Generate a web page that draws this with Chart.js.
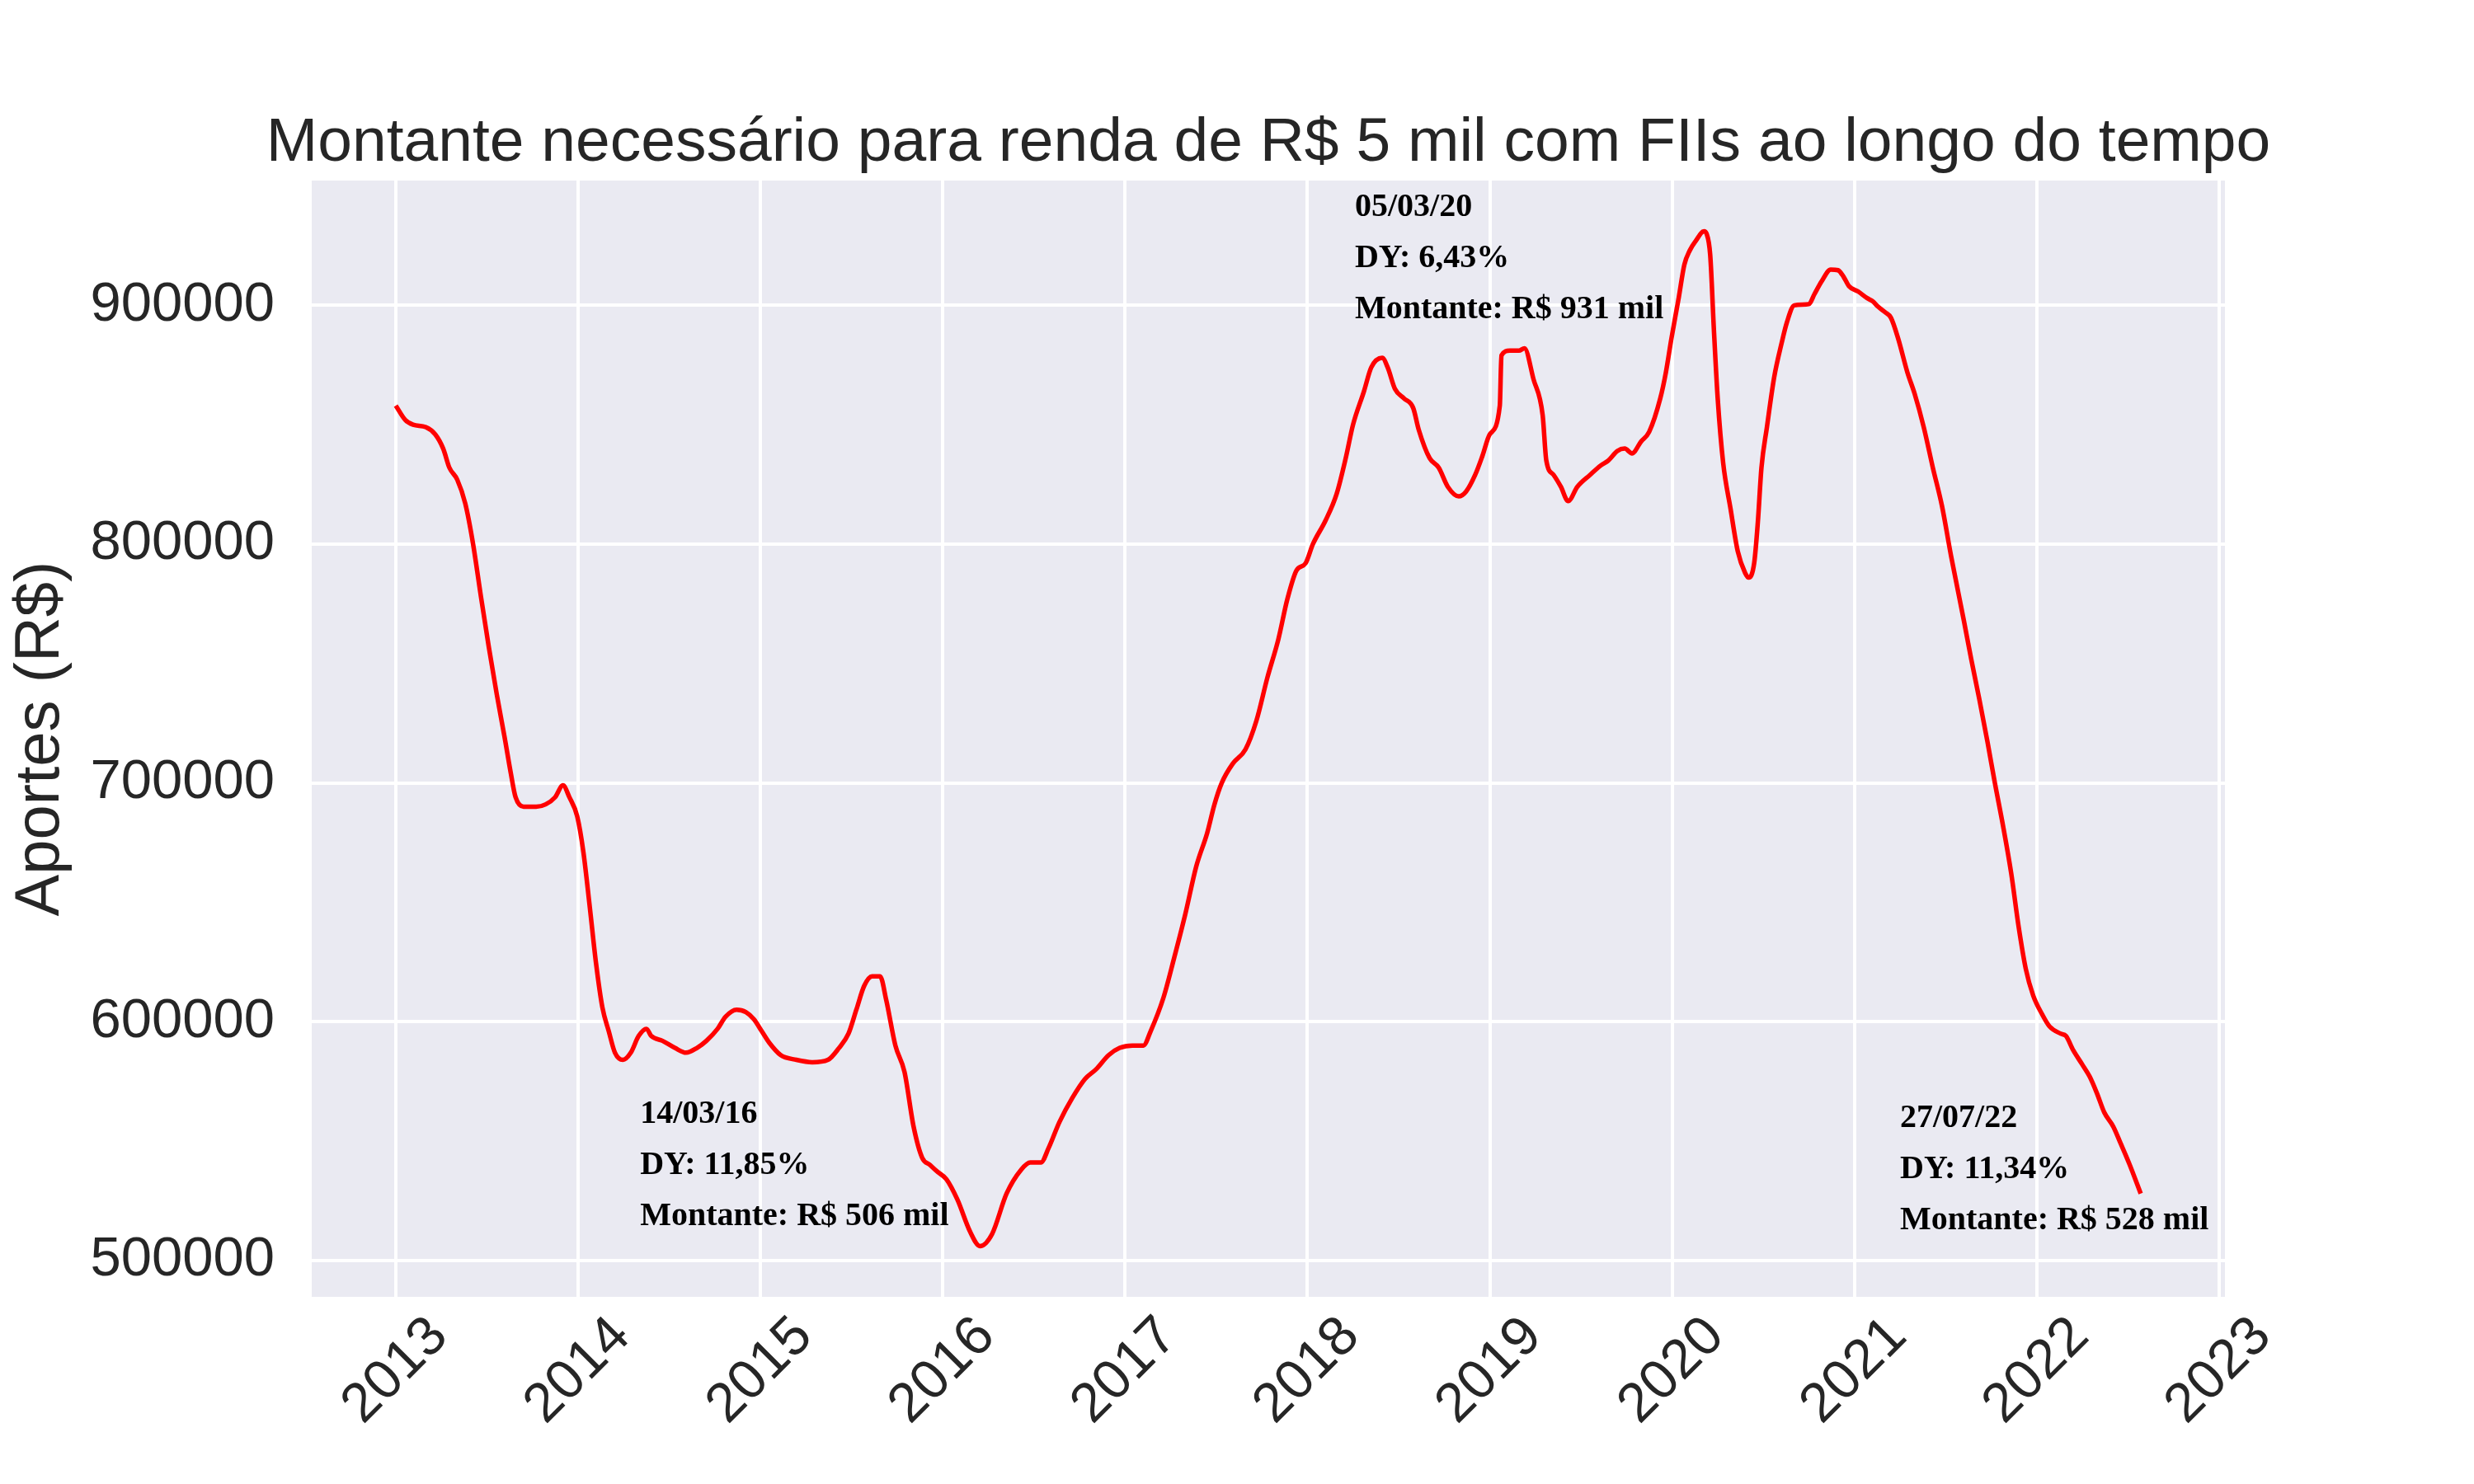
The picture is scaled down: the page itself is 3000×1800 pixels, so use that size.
<!DOCTYPE html>
<html>
<head>
<meta charset="utf-8">
<script src="https://cdn.jsdelivr.net/npm/chart.js@4.4.0/dist/chart.umd.min.js"></script>
<style>
  html, body { margin: 0; padding: 0; background: #ffffff; }
  #wrap { width: 3000px; height: 1800px; }
</style>
</head>
<body>
<div id="wrap"><canvas id="grafico" width="3000" height="1800"></canvas></div>
<script>
// Montante necessário para renda de R$ 5 mil com FIIs

const titulo = 'Montante necessário para renda de R$ 5 mil com FIIs ao longo do tempo';
const rotuloY = 'Aportes (R$)';

// datas em anos decimais
const anos = [
    2013.000, 2013.052, 2013.095, 2013.164, 2013.216, 2013.260, 2013.294, 2013.337, 2013.381, 2013.424,
    2013.467, 2013.510, 2013.554, 2013.597, 2013.631, 2013.657, 2013.701, 2013.770, 2013.822, 2013.874,
    2013.917, 2013.952, 2013.995, 2014.029, 2014.064, 2014.099, 2014.133, 2014.168, 2014.202, 2014.246,
    2014.289, 2014.332, 2014.375, 2014.401, 2014.462, 2014.531, 2014.592, 2014.652, 2014.704, 2014.765,
    2014.808, 2014.869, 2014.920, 2014.964, 2015.007, 2015.050, 2015.111, 2015.197, 2015.284, 2015.370,
    2015.431, 2015.483, 2015.526, 2015.569, 2015.612, 2015.656, 2015.690, 2015.740, 2015.790, 2015.840,
    2015.887, 2015.930, 2015.973, 2016.020, 2016.080, 2016.150, 2016.204, 2016.270, 2016.350, 2016.430,
    2016.480, 2016.538, 2016.580, 2016.640, 2016.710, 2016.780, 2016.840, 2016.910, 2016.970, 2017.040,
    2017.100, 2017.140, 2017.210, 2017.270, 2017.330, 2017.390, 2017.450, 2017.490, 2017.530, 2017.590,
    2017.660, 2017.720, 2017.780, 2017.840, 2017.890, 2017.940, 2017.990, 2018.030, 2018.100, 2018.160,
    2018.210, 2018.250, 2018.310, 2018.350, 2018.410, 2018.440, 2018.480, 2018.530, 2018.580, 2018.610,
    2018.670, 2018.720, 2018.770, 2018.830, 2018.870, 2018.920, 2018.960, 2019.000, 2019.055, 2019.064,
    2019.110, 2019.160, 2019.190, 2019.240, 2019.290, 2019.310, 2019.350, 2019.390, 2019.430, 2019.480,
    2019.550, 2019.610, 2019.650, 2019.700, 2019.740, 2019.780, 2019.830, 2019.874, 2019.935, 2019.966,
    2019.996, 2020.037, 2020.067, 2020.097, 2020.130, 2020.175, 2020.189, 2020.209, 2020.229, 2020.250,
    2020.280, 2020.320, 2020.360, 2020.400, 2020.420, 2020.450, 2020.470, 2020.490, 2020.520, 2020.560,
    2020.600, 2020.630, 2020.670, 2020.750, 2020.780, 2020.820, 2020.870, 2020.910, 2020.940, 2020.970,
    2021.020, 2021.070, 2021.100, 2021.130, 2021.170, 2021.200, 2021.240, 2021.290, 2021.330, 2021.380,
    2021.430, 2021.480, 2021.530, 2021.600, 2021.640, 2021.685, 2021.730, 2021.770, 2021.815, 2021.860,
    2021.900, 2021.940, 2021.980, 2022.030, 2022.070, 2022.130, 2022.160, 2022.200, 2022.250, 2022.290,
    2022.330, 2022.370, 2022.420, 2022.460, 2022.510, 2022.570
];

// montante em milhares de R$
const montanteMil = [
    858, 852, 850, 849, 846, 840, 832, 827, 817, 800,
    778, 757, 737, 719, 704, 694, 690, 690, 691, 694,
    699, 694, 686, 671, 648, 624, 606, 596, 587, 584,
    587, 594, 597, 594, 592, 589, 587, 589, 592, 597,
    602, 605, 604, 601, 596, 591, 586, 584, 583, 584,
    589, 595, 605, 615, 619, 619, 609, 590, 579, 556,
    543, 540, 537, 534, 525.5, 512, 506, 511, 528, 538,
    541, 541, 547, 558, 568, 576, 580, 586, 589, 590,
    590, 596, 610, 627, 645, 665, 679, 691, 700, 708,
    714, 726, 744, 760, 777, 789, 792, 800, 810, 821,
    836, 850, 864, 874, 878, 874, 865, 861, 857, 848,
    836, 832, 824, 820, 822, 829, 837, 846, 858, 879,
    881, 881, 882, 869, 854, 835, 829, 824, 818, 824,
    829, 833, 835, 839, 840, 838, 843, 847, 861, 872,
    886, 903.5, 917, 923, 927, 931, 930, 921, 890, 861,
    834, 815, 797, 788, 786, 792, 809, 832, 849, 870,
    884, 893, 900, 900.5, 904.6, 910, 915, 914.7, 912, 908,
    905.8, 903, 901.7, 899.4, 897, 894.8, 886, 872, 863, 849,
    832, 816, 795, 768, 752, 735, 717, 700, 682, 662,
    640, 622, 611, 603, 598, 595, 594, 588, 582, 577,
    570, 562, 556, 549, 540, 528
];

const ticksX = [2013, 2014, 2015, 2016, 2017, 2018, 2019, 2020, 2021, 2022, 2023];
const ticksY = [500000, 600000, 700000, 800000, 900000];

// anotações (data, DY, montante) e onde ficam, em coordenadas dos dados
const anotData = ['05/03/20', '14/03/16', '27/07/22'];
const anotDY = ['6,43%', '11,85%', '11,34%'];
const anotMontante = ['931', '506', '528'];
const anotX = [2018.26, 2014.34, 2021.25];
const anotY = [894500, 514800, 513100];

const pontos = anos.map((a, i) => ({ x: a, y: montanteMil[i] * 1000 }));

const corTexto = '#262626';
const fonte = '"Liberation Sans", Arial, sans-serif';

const textosPlugin = {
    id: 'textos',
    beforeDraw(chart) {
        const { ctx, chartArea } = chart;
        ctx.save();
        ctx.fillStyle = '#eaeaf2';
        ctx.fillRect(chartArea.left, chartArea.top, chartArea.right - chartArea.left, chartArea.bottom - chartArea.top);
        ctx.restore();
    },
    afterDraw(chart) {
        const { ctx, chartArea, scales } = chart;
        ctx.save();

        // título
        ctx.fillStyle = corTexto;
        ctx.font = `75px ${fonte}`;
        ctx.textAlign = 'center';
        ctx.textBaseline = 'alphabetic';
        ctx.fillText(titulo, (chartArea.left + chartArea.right) / 2, chartArea.top - 24);

        // rótulos do eixo x, girados 45°
        ctx.font = `67px ${fonte}`;
        ctx.textBaseline = 'middle';
        scales.x.ticks.forEach(t => {
            const px = scales.x.getPixelForValue(t.value);
            ctx.save();
            ctx.translate(px, chartArea.bottom + 90);
            ctx.rotate(-Math.PI / 4);
            ctx.fillText(String(t.value), 0, 0);
            ctx.restore();
        });

        // anotações
        ctx.fillStyle = '#000000';
        ctx.font = `bold 40px "Liberation Serif", "Times New Roman", serif`;
        ctx.textAlign = 'left';
        ctx.textBaseline = 'alphabetic';
        anotData.forEach((d, i) => {
            const x = scales.x.getPixelForValue(anotX[i]);
            const y = scales.y.getPixelForValue(anotY[i]);
            const linhas = [d, `DY: ${anotDY[i]}`, `Montante: R$ ${anotMontante[i]} mil`];
            linhas.forEach((l, j) => {
                ctx.fillText(l, x, y - (linhas.length - 1 - j) * 62);
            });
        });
        ctx.restore();
    }
};

new Chart(document.getElementById('grafico').getContext('2d'), {
    type: 'line',
    data: {
        datasets: [{
            data: pontos,
            borderColor: '#ff0000',
            borderWidth: 5.5,
            pointRadius: 0,
            tension: 0.3,
            cubicInterpolationMode: 'monotone',
            fill: false,
        }]
    },
    options: {
        responsive: false,
        animation: false,
        devicePixelRatio: 1,
        layout: { padding: { left: 0, right: 302, top: 219, bottom: 0 } },
        plugins: {
            legend: { display: false },
            tooltip: { enabled: false },
            title: { display: false },
        },
        scales: {
            x: {
                type: 'linear',
                min: 2012.539,
                max: 2023.032,
                afterBuildTicks: s => { s.ticks = ticksX.map(v => ({ value: v })); },
                afterFit: s => { s.height = 227; },
                ticks: { display: false },
                grid: { color: '#ffffff', lineWidth: 4, drawTicks: false },
                border: { display: false },
            },
            y: {
                type: 'linear',
                min: 484750,
                max: 952250,
                afterBuildTicks: s => { s.ticks = ticksY.map(v => ({ value: v })); },
                afterFit: s => { s.width = 378; },
                ticks: {
                    color: corTexto,
                    padding: 45,
                    font: { family: fonte, size: 67 },
                    callback: v => String(v),
                },
                grid: { color: '#ffffff', lineWidth: 4, drawTicks: false },
                border: { display: false },
                title: {
                    display: true,
                    text: rotuloY,
                    color: corTexto,
                    font: { family: fonte, size: 76 },
                    padding: { top: 4, bottom: 0 },
                },
            }
        }
    },
    plugins: [textosPlugin]
});
</script>
</body>
</html>
